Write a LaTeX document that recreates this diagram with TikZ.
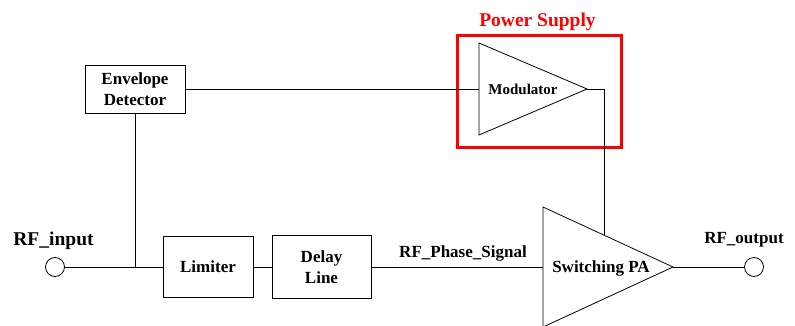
\documentclass[tikz,border=0pt]{standalone}
\usepackage{fontspec}
\setmainfont{Liberation Serif}
\usetikzlibrary{calc}

\begin{document}
\begin{tikzpicture}[x = 1pt, y = 1pt, % one unit per pixel
                line width = 0.8pt, % line style
                node distance = 113.5pt % distance between blocks
            ]

            \tikzstyle{every node}=[font = \bfseries\fontsize{17}{21}\selectfont,
            align = center, inner sep = 0pt]
            \tikzstyle{block}=[draw = black, rectangle, line width = 0.8pt]
            \tikzstyle{port}=[draw = black, circle, minimum size = 19pt]
            \tikzstyle{label}=[anchor = base]

            \useasboundingbox (0,0) rectangle (795,325);

            % blocks
            \node (in) [port] at (55,58) {};
            \node (lim) [block, minimum width = 90pt, minimum height = 61pt] at (208,58) {Limiter};
            \node (dly) [block, minimum width = 99pt, minimum height = 63pt,
            right of = lim] {Delay\\Line};
            \node (env) [block, minimum width = 100pt, minimum height = 48pt] at (135,236)
            {Envelope\\Detector};
            \node (out) [port] at (754,58) {};
            \coordinate (jn) at (135,58);

            % amplifiers
            \coordinate (pa top) at (543,118); \coordinate (pa tip) at (673,58);
            \coordinate (pa bot) at (543,-2); \coordinate (pa in) at (543,58);
            \coordinate (pa sup) at ($(pa top)!0.469!(pa tip)$);
            \draw[line join = miter] (pa top) -- (pa tip) -- (pa bot) -- cycle;
            \node (pa) [label] at (601,53) {Switching PA};

            \coordinate (mod top) at (479,282); \coordinate (mod tip) at (587,236);
            \coordinate (mod bot) at (479,190); \coordinate (mod in) at (479,236);
            \draw[line join = miter] (mod top) -- (mod tip) -- (mod bot) -- cycle;
            \node (mod) [label, font = \bfseries\fontsize{15}{18}\selectfont] at (523,231)
            {Modulator};

            % power supply frame
            \node (ps) [draw = red, line width = 3pt, minimum width = 164pt,
            minimum height = 112pt] at (539,234) {};
            \node (pslab) [label, red, font = \bfseries\fontsize{19.5}{23}\selectfont]
            at (537.5,299) {Power Supply};

            % texts
            \node (inlab) [label, font = \bfseries\fontsize{19.5}{23}\selectfont]
            at (53.5,80) {RF\_input};
            \node (outlab) [label] at (744,81.5) {RF\_output};
            \node (phlab) [label] at (463,67.5) {RF\_Phase\_Signal};

            % wires
            \draw (in.east) -- (lim.west); \draw (env.south) -- (jn);
            \draw (lim.east) -- (dly.west); \draw (dly.east) -- (pa in);
            \draw (pa tip) -- (out.west); \draw (env.east) -- (mod in);
            \draw (mod tip) -| (pa sup);
        \end{tikzpicture}
\end{document}
